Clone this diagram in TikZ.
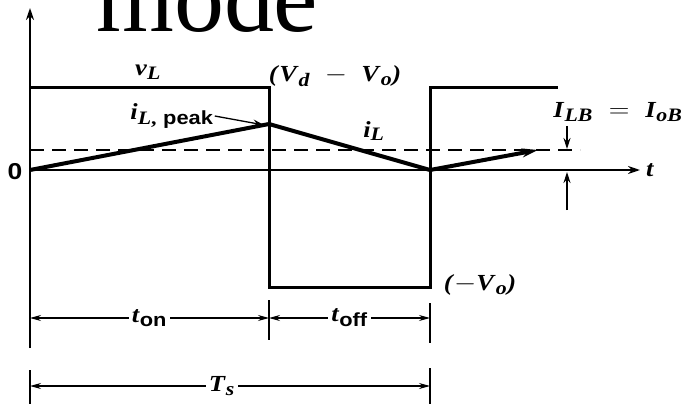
\documentclass[tikz,border=0pt]{standalone}
\usepackage{fontspec}
\usepackage{amsmath}
\usepackage{graphicx}
\setmainfont{Liberation Serif}
\newfontfamily\hv{Liberation Sans}
\usetikzlibrary{arrows.meta}
\DeclareMathSizes{23}{23}{19}{16}
\newcommand\bi[1]{\textbf{\textit{#1}}}
\newcommand\hb[1]{\text{\hv\bfseries #1}}
\newcommand\sx[1]{\scalebox{1.15}[1]{#1}}
\begin{document}
\begin{tikzpicture}[x=1pt,y=-1pt,
  axis/.style={line width=1.8pt,-{Stealth[length=12pt,width=8pt]}},
  wave/.style={line width=3pt,line join=miter},
  cur/.style={line width=4pt,line join=round,-{Stealth[length=16pt,width=9pt]}},
  dim/.style={line width=1.3pt,{Stealth[length=11pt,width=6pt]}-{Stealth[length=11pt,width=6pt]}},
  pointer/.style={line width=1.3pt,-{Stealth[length=11pt,width=7pt]}},
  tick/.style={line width=1.6pt},
  lbl/.style={font=\fontsize{23}{26}\selectfont,inner sep=1pt},
  gap/.style={fill=white,inner sep=3pt}
]
\useasboundingbox (0,0) rectangle (681,404);
% title fragment
\node[anchor=base west,inner sep=0,font=\fontsize{100}{100}\selectfont] (title) at (96,32) {mode};
% coordinates
\coordinate (O) at (30,170);
\coordinate (ytop) at (30,8);
\coordinate (ybot) at (30,348);
\coordinate (tend) at (640,170);
\coordinate (v0) at (30,88);
\coordinate (v1) at (269,88);
\coordinate (v2) at (269,287);
\coordinate (v3) at (430,287);
\coordinate (v4) at (430,88);
\coordinate (v5) at (558,88);
\coordinate (d0) at (30,150);
\coordinate (d1) at (580,150);
\coordinate (ipk) at (269,124);
\coordinate (i2) at (430,170);
\coordinate (i3) at (538,150);
\coordinate (a1) at (567,126);
\coordinate (a2) at (567,149);
\coordinate (a3) at (567,210);
\coordinate (a4) at (567,172);
\coordinate (on0) at (30,318);
\coordinate (on1) at (269,318);
\coordinate (off1) at (430,318);
\coordinate (tk1a) at (269,300);
\coordinate (tk1b) at (269,340);
\coordinate (tk2a) at (430,303);
\coordinate (tk2b) at (430,343);
\coordinate (ts0) at (30,386);
\coordinate (ts1) at (430,386);
\coordinate (tk3a) at (30,370);
\coordinate (tk3b) at (30,404);
\coordinate (tk4a) at (430,368);
\coordinate (tk4b) at (430,404);
% axes
\draw[axis] (ybot) -- (ytop);
\draw[axis] (O) -- (tend);
% v_L waveform
\draw[wave] (v0) -- (v1) -- (v2) -- (v3) -- (v4) -- (v5);
% dashed average level
\draw[line width=1.6pt,dash pattern=on 14pt off 8pt] (d0) -- (d1);
% i_L
\draw[cur] (O) -- (ipk) -- (i2) -- (i3);
% I_LB arrows
\draw[pointer] (a1) -- (a2);
\draw[pointer] (a3) -- (a4);
% labels
\node[lbl] (vL) at (148,72) {\sx{$\bi{v}_{\bi{L}}$}};
\node[lbl] (vdo) at (335,76) {\sx{$\bi{(}\bi{V}_{\bi{d}}\;-\;\bi{V}_{\bi{o}}\bi{)}$}};
\node[lbl] (iL) at (374,131) {\sx{$\bi{i}_{\bi{L}}$}};
\node[lbl] (ILB) at (618,112) {\sx{$\bi{I}_{\bi{LB}} \;=\; \bi{I}_{\bi{oB}}$}};
\node[lbl] (tlab) at (650,170) {\sx{$\bi{t}$}};
\node[lbl,font=\hv\bfseries\fontsize{23}{26}\selectfont] (zero) at (15,172) {\sx{0}};
\node[lbl] (mVo) at (480,285) {\sx{$\bi{(}{-}\bi{V}_{\bi{o}}\bi{)}$}};
\node[lbl] (pk) at (172,116) {\sx{$\bi{i}_{\bi{L}\textbf{,}\ \hb{peak}}$}};
\draw[pointer] (pk.east) -- ([xshift=-5pt,yshift=-1pt]ipk);
% time dimensions
\draw[tick] (tk1a) -- (tk1b);
\draw[tick] (tk2a) -- (tk2b);
\draw[tick] (tk3a) -- (tk3b);
\draw[tick] (tk4a) -- (tk4b);
\draw[dim] (on0) -- node[lbl,gap] (ton) {\sx{$\bi{t}_{\hb{on}}$}} (on1);
\draw[dim] (on1) -- node[lbl,gap] (toff) {\sx{$\bi{t}_{\hb{off}}$}} (off1);
\draw[dim] (ts0) -- node[lbl,gap,pos=0.48] (Ts) {\sx{$\bi{T}_{\bi{s}}$}} (ts1);
\end{tikzpicture}
\end{document}
